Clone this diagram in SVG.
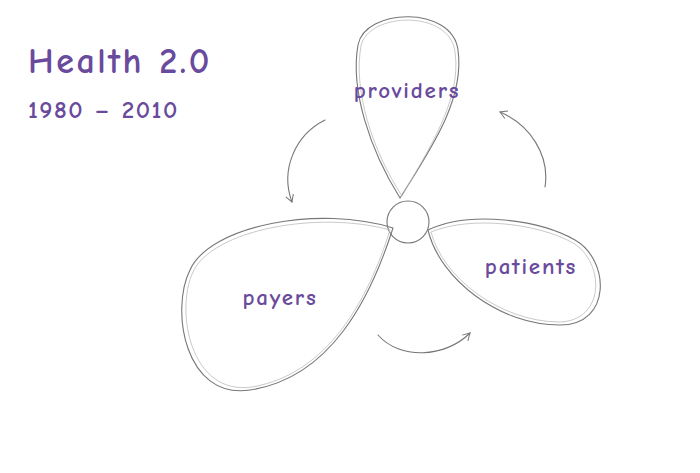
<svg xmlns="http://www.w3.org/2000/svg" width="700" height="473" viewBox="0 0 700 473">
<style>
.p{fill:none;stroke:#777;stroke-width:1.1;stroke-linecap:round}
.p2{fill:none;stroke:#bbb;stroke-width:0.8}
.t{fill:#6a4a9c;font-family:"Comic Neue","Liberation Sans",sans-serif;font-weight:bold}
</style>
<defs><marker id="a" markerWidth="10" markerHeight="10" refX="8" refY="5" orient="auto" markerUnits="userSpaceOnUse"><path d="M1,1 L8,5 L1,9" fill="none" stroke="#777" stroke-width="1"/></marker></defs>
<rect width="700" height="473" fill="#fff"/>
<g id="title"><text class="t" x="28" y="73" font-size="36" letter-spacing="2.5">Health 2.0</text><text class="t" x="28" y="118" font-size="25" letter-spacing="1.5">1980 – 2010</text></g>
<g id="providers"><path class="p" d="M400,198 C370,150 350,90 358,45 C365,8 452,5 458,50 C465,100 430,150 400,198 Z"/><path class="p2" d="M402,196 C372,150 353,90 361,46 C368,12 450,9 455,52 C462,100 428,150 402,196"/><text class="t" x="407" y="98" font-size="23" letter-spacing="1.8" text-anchor="middle">providers</text></g>
<g id="center"><circle class="p" cx="408" cy="222" r="21"/></g>
<g id="payers"><path class="p" d="M393,228 C370,300 330,378 250,390 C185,400 170,310 190,270 C210,225 320,205 393,228 Z"/><path class="p2" d="M390,230 C368,300 328,374 252,387 C190,396 175,310 193,272 C212,230 318,210 390,230"/><text class="t" x="280" y="305" font-size="23" letter-spacing="1.8" text-anchor="middle">payers</text></g>
<g id="patients"><path class="p" d="M428,230 C440,280 500,325 560,325 C612,325 610,260 575,240 C540,220 470,210 428,230 Z"/><path class="p2" d="M431,232 C443,278 500,321 558,322 C606,322 605,262 573,243 C540,224 472,215 431,232"/><text class="t" x="531" y="274" font-size="23" letter-spacing="1.8" text-anchor="middle">patients</text></g>
<g id="connectors">
<path class="p" d="M325,120 C295,135 280,170 292,202" marker-end="url(#a)"/>
<path class="p" d="M545,187 C550,155 530,125 500,112" marker-end="url(#a)"/>
<path class="p" d="M378,335 C400,360 445,358 470,333" marker-end="url(#a)"/>
</g>
</svg>
